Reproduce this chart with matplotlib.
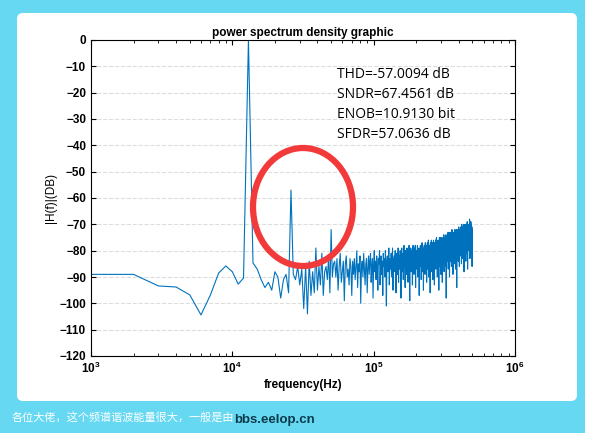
import matplotlib
matplotlib.use("Agg")
import matplotlib.pyplot as plt
from matplotlib.patches import FancyBboxPatch, Ellipse, Rectangle
import numpy as np

low_vals = [-89, -89, -93.4, -93.8, -96.8, -104.4, -96.8, -88.5, -85.8, -88, -92.7, -90.4, 0,
            -84.7, -87, -91, -94, -92, -95, -88, -90, -98, -91, -89, -96, -57, -89, -91, -86, -93,
            -87, -102, -86, -104, -84, -97, -88, -96, -79, -95, -86, -93, -81, -97, -88, -86, -91,
            -82, -96, -72, -90, -85]
high_str = """
-84 -90 -83 -95 -86 -81 -92 -88 -84 -99 -85 -82 -90 -87 -93 -83 -86 -97 -84 -89
-83 -91 -86 -80 -94 -85 -88 -82 -100 -86 -84 -90 -81 -87 -93 -85 -83 -96 -87 -82
-89 -84 -81 -92 -86 -83 -98 -85 -80 -88 -84 -91 -82 -86 -95 -83 -85 -80 -93 -86
-82 -89 -84 -97 -81 -86 -83 -90 -80 -85 -101 -84 -82 -88 -85 -79 -93 -86 -83 -87
-81 -90 -84 -79 -95 -83 -86 -82 -88 -80 -84 -96 -83 -81 -89 -85 -79 -92 -84 -82
-87 -80 -85 -98 -82 -79 -88 -83 -81 -91 -84 -78 -86 -82 -94 -80 -85 -83 -89 -79
-84 -82 -92 -80 -86 -78 -83 -99 -81 -85 -79 -88 -82 -84 -80 -93 -83 -78 -86 -81
-89 -79 -83 -85 -78 -94 -81 -84 -80 -87 -82 -78 -90 -83 -80 -85 -79 -97 -82 -81
-86 -78 -84 -80 -91 -79 -83 -77 -88 -81 -84 -79 -95 -80 -82 -78 -86 -81 -89 -77
-83 -80 -85 -78 -92 -79 -82 -77 -87 -81 -84 -76 -90 -80 -83 -78 -86 -79 -96 -77
-82 -79 -85 -76 -88 -80 -78 -84 -77 -91 -79 -82 -76 -86 -80 -78 -93 -77 -83 -79
-81 -76 -87 -78 -80 -75 -85 -79 -77 -90 -78 -82 -76 -84 -79 -77 -95 -78 -81 -75
-86 -77 -79 -75 -83 -78 -89 -76 -80 -77 -84 -75 -79 -92 -77 -81 -76 -85 -78 -74
-80 -77 -88 -75 -79 -76 -83 -78 -74 -86 -77 -80 -75 -98 -78 -76 -82 -74 -79 -77
-84 -75 -78 -73 -87 -76 -80 -74 -82 -77 -75 -90 -76 -79 -73 -84 -77 -75 -81 -74
-79 -76 -86 -74 -78 -72 -83 -77 -75 -80 -73 -89 -76 -78 -74 -82 -75 -77 -73 -85
-76 -79 -72 -81 -75 -77 -73 -87 -76 -74 -80 -72 -78 -75 -94 -76 -73 -79 -74 -82
-75 -72 -78 -74 -84 -73 -76 -71 -80 -75 -73 -86 -74 -77 -72 -79 -75 -73 -82 -74
-71 -78 -74 -76 -72 -85 -73 -70 -77 -74 -80 -72 -75 -71 -83 -74 -76 -72 -79 -73
-70 -77 -74 -88 -72 -75 -71 -79 -73 -76 -70 -82 -74 -72 -77 -71 -84 -73 -75 -70
-78 -72 -74 -71 -81 -73 -69 -76 -72 -87 -74 -70 -77 -72 -75 -71 -80 -73 -76 -70
-74 -71 -79 -72 -68 -76 -73 -83 -71 -75 -70 -78 -72 -74 -69 -81 -73 -71 -77 -70
-73 -79 -71 -75 -86 -72 -74 -80
"""
high_vals = [float(v) for v in high_str.split()]
psd = np.array(low_vals + high_vals)
bin_hz = 1000.0
freq = bin_hz * np.arange(1, len(psd) + 1)

yticks = list(range(-120, 1, 10))
metrics = ["THD=-57.0094 dB", "SNDR=67.4561 dB", "ENOB=10.9130 bit", "SFDR=57.0636 dB"]

W, H = 616, 433
fig = plt.figure(figsize=(W / 100, H / 100), dpi=100)
fig.patch.set_facecolor("white")
fig.patches.append(Rectangle((0, 0), 585, H, transform=None, facecolor="#66d8f2", edgecolor="none", zorder=-3))
fig.patches.append(FancyBboxPatch((17, 433 - 401), 560, 388, boxstyle="round,pad=0,rounding_size=6",
                                  transform=None, facecolor="white", edgecolor="none", zorder=-2))

ax = fig.add_axes([91 / W, 1 - 356 / H, (515 - 91) / W, (356 - 40) / H])
ax.plot(freq, psd, color="#0072bd", lw=0.8)
ax.set_xscale("log")
ax.set_xlim(1e3, 1e6)
ax.set_ylim(-120, 0)
ax.set_yticks(yticks)
ax.grid(axis="y", ls="--", color="#dddddd", lw=0.8)
ax.tick_params(which="both", direction="in", top=True, right=True, labelsize=8.5)
for lab in ax.get_xticklabels() + ax.get_yticklabels():
    lab.set_fontweight("bold")
    lab.set_family("Liberation Sans")
ax.set_title("power spectrum density graphic", fontsize=8.5, fontweight="bold", family="Liberation Sans", pad=3)
ax.set_xlabel("frequency(Hz)", fontsize=8.5, fontweight="bold", family="Liberation Sans", labelpad=2)
ax.set_ylabel("|H(f)|(DB)", fontsize=8.5, family="Liberation Sans", labelpad=2)
for i, t in enumerate(metrics):
    fig.text(337 / W, 1 - (75 + 20 * i) / H, t, fontsize=10, family="Open Sans", va="center")

fig.patches.append(Ellipse((303, 433 - 207), 100, 118, transform=None, fill=False,
                           edgecolor="#f23a3a", lw=4.5, zorder=5))
fig.text(12 / W, 1 - 417 / H, "各位大佬，这个频谱谐波能量很大，一般是由", color="white",
         fontsize=8, family=["Noto Sans CJK SC", "DejaVu Sans"], va="center")
fig.text(234 / W, 1 - 420 / H, "bbs.eelop.cn", color="#0a3a4a", fontsize=9.5, fontweight="bold",
         family="Liberation Sans", va="center")
fig.savefig("out.png", dpi=100)
